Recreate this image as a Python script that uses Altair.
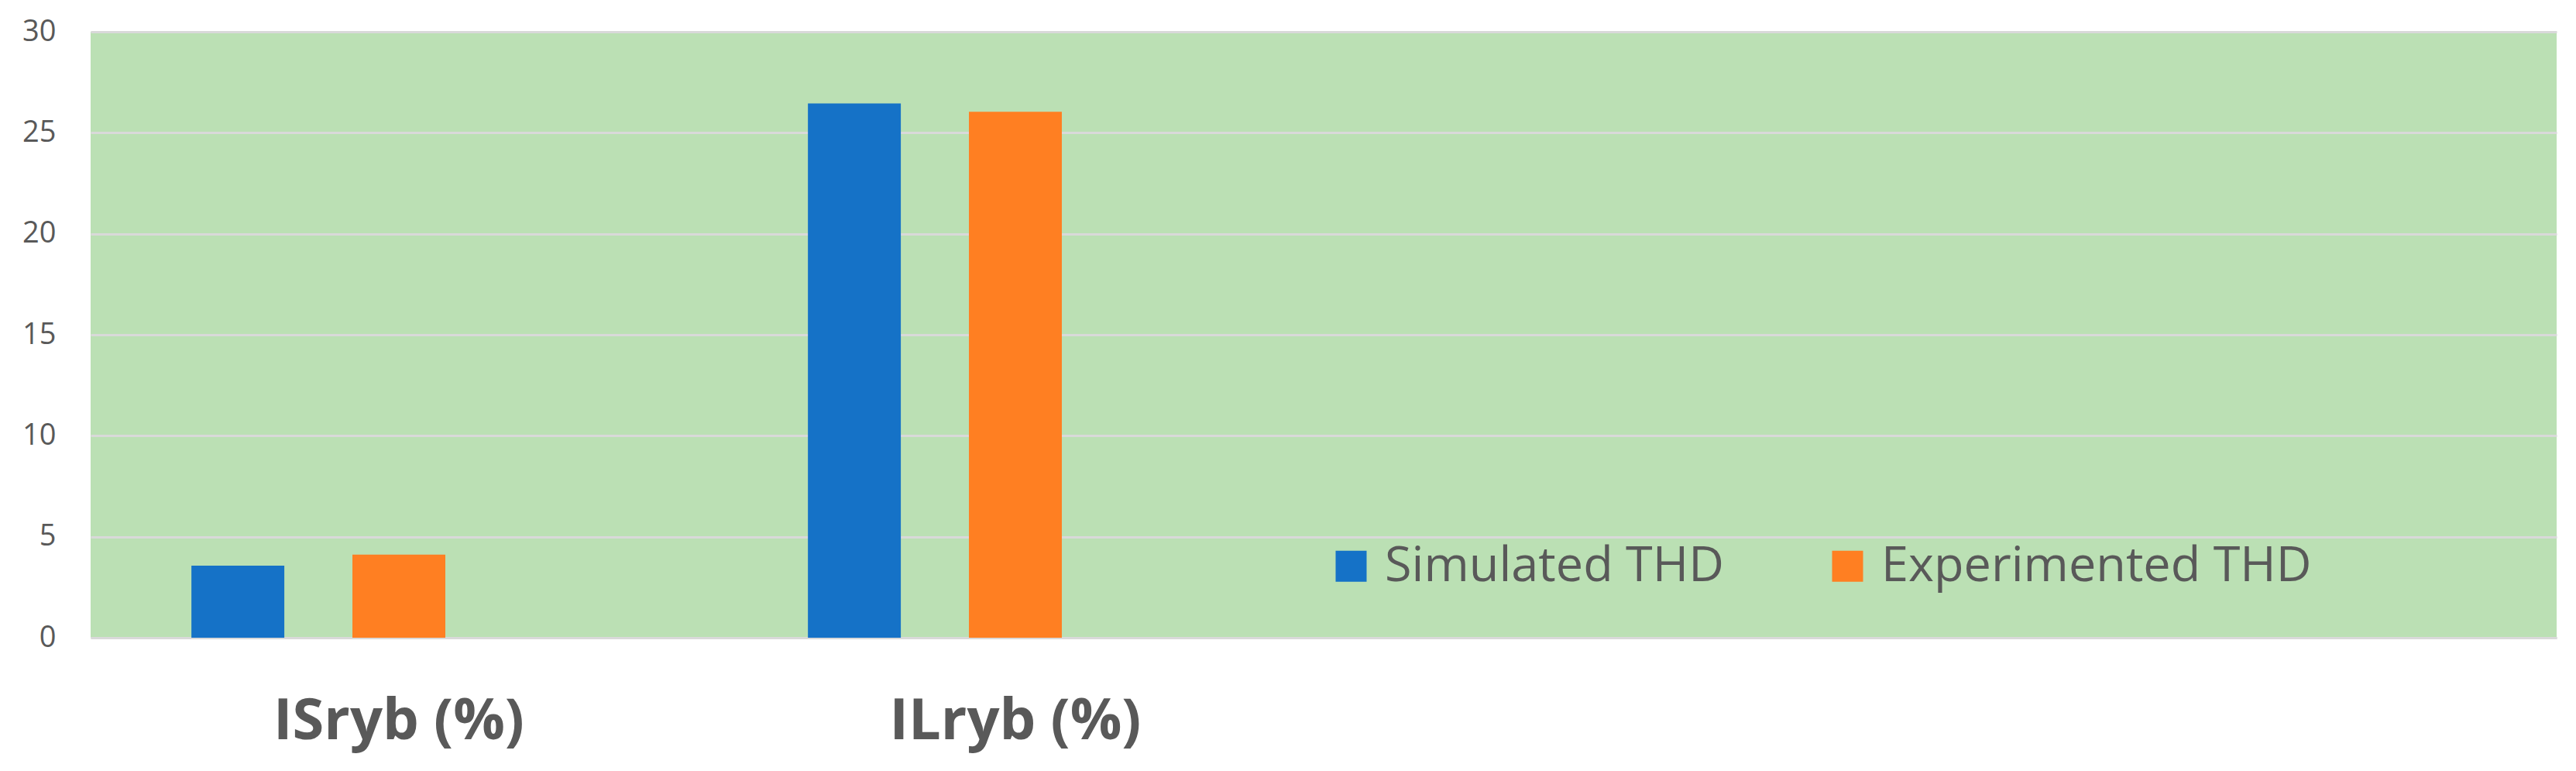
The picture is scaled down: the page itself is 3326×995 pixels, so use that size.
import altair as alt
import pandas as pd

categories = ["ISryb (%)", "ILryb (%)", " ", "  "]
series = ["Simulated THD", "Experimented THD", "Series3"]
simulated = [3.57, 26.45]
experimented = [4.11, 26.04]
colors = ["#1572C7", "#FF7F22"]
y_ticks = [0, 5, 10, 15, 20, 25, 30]

rows = []
for cat, s, e in zip(categories[:2], simulated, experimented):
    rows.append({"cat": cat, "series": series[0], "value": s})
    rows.append({"cat": cat, "series": series[1], "value": e})
df = pd.DataFrame(rows)

FONT = "Open Sans"
GREY = "#595959"

chart = alt.Chart(df).mark_bar().encode(
    x=alt.X(
        "cat:N",
        sort=categories,
        scale=alt.Scale(domain=categories, paddingInner=0.327, paddingOuter=0.1635),
        axis=alt.Axis(
            title=None, labelAngle=0, ticks=False, labelFontSize=74,
            labelFontWeight="bold", labelColor=GREY, labelFont=FONT,
            labelPadding=72, domainColor="#D9D9D9", domainWidth=3, labelLimit=1000,
        ),
    ),
    xOffset=alt.XOffset(
        "series:N",
        scale=alt.Scale(domain=series, paddingInner=0.423, paddingOuter=0),
    ),
    y=alt.Y(
        "value:Q",
        scale=alt.Scale(domain=[0, 30], nice=False),
        axis=alt.Axis(
            title=None, values=y_ticks, ticks=False, domain=False,
            labelFontSize=38, labelColor=GREY, labelFont=FONT, labelPadding=45,
            gridColor="#D9D9D9", gridWidth=3,
        ),
    ),
    color=alt.Color(
        "series:N",
        scale=alt.Scale(domain=series[:2], range=colors),
        legend=alt.Legend(
            title=None, orient="none", legendX=1596, legendY=658,
            direction="horizontal", symbolType="square", symbolSize=1600,
            symbolStrokeWidth=0, symbolOpacity=1, labelFontSize=63, labelFont=FONT,
            labelColor=GREY, labelOffset=12, columnPadding=128, padding=0,
            labelLimit=2000,
        ),
    ),
).properties(
    width=3184,
    height=782,
    padding={"left": 109, "top": 33, "right": 5, "bottom": 168},
    autosize="none",
    background="white",
).configure_view(
    fill="#BBE0B4", strokeWidth=0,
)

chart.save("out.html", embed_options={"renderer": "svg", "actions": False})
